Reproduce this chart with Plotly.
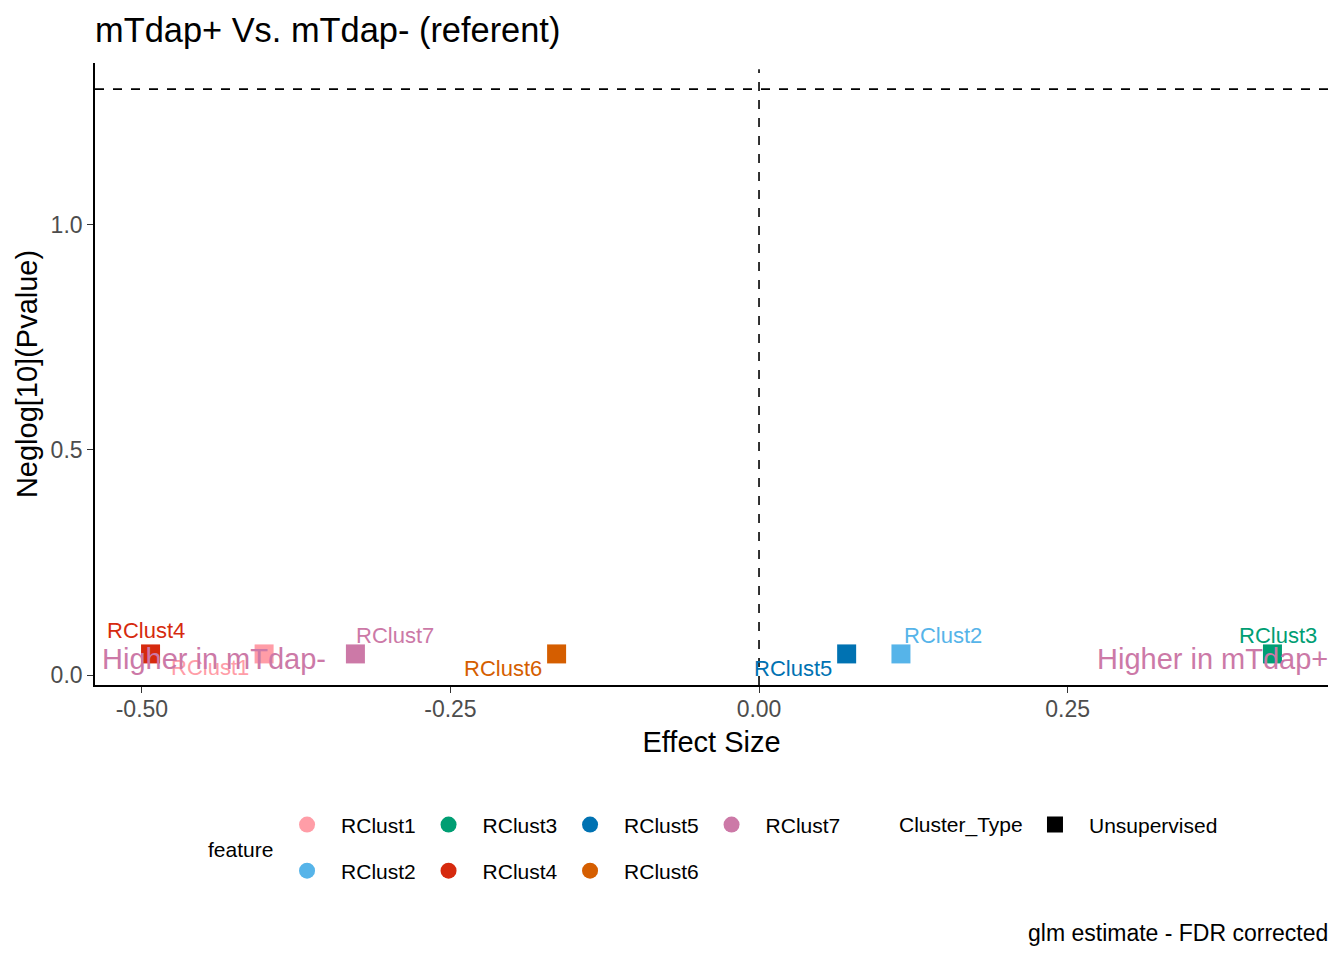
import plotly.graph_objects as go
import math

# ---- data ----
features = ["RClust1", "RClust2", "RClust3", "RClust4", "RClust5", "RClust6", "RClust7"]
effect_size = [-0.401, 0.115, 0.416, -0.493, 0.071, -0.164, -0.327]
neglog10_p = [0.047, 0.047, 0.047, 0.047, 0.047, 0.047, 0.047]
cluster_type = ["Unsupervised"] * 7
x_ticks = [-0.50, -0.25, 0.00, 0.25]
y_ticks = [0.0, 0.5, 1.0]
alpha = 0.05

# ---- styling ----
colors = {
    "RClust1": "#FF9DA7", "RClust2": "#56B4E9", "RClust3": "#009E73",
    "RClust4": "#D62A0E", "RClust5": "#0072B2", "RClust6": "#D55E00",
    "RClust7": "#CC79A7",
}
# pixel offsets of repelled labels (dx right, dy up)
label_shift = {
    "RClust1": (-54, -14), "RClust2": (42, 18), "RClust3": (6, 18),
    "RClust4": (-5, 23), "RClust5": (-54, -15), "RClust6": (-54, -15),
    "RClust7": (40, 18),
}
FONT = "Liberation Sans, Arial, sans-serif"

fig = go.Figure()

# data points (squares)
for f, x, y in zip(features, effect_size, neglog10_p):
    fig.add_trace(go.Scatter(
        x=[x], y=[y], mode="markers", showlegend=False, name=f,
        marker=dict(symbol="square", size=19, color=colors[f]),
        hovertemplate=f + "<br>Effect: %{x}<br>-log10 p: %{y}<extra></extra>",
    ))

# legend entries (feature, circles), two rows
row1 = ["RClust1", "RClust3", "RClust5", "RClust7"]
row2 = ["RClust2", "RClust4", "RClust6"]
for f in row1:
    fig.add_trace(go.Scatter(x=[None], y=[None], mode="markers", name=f, legend="legend",
                             marker=dict(symbol="circle", size=18, color=colors[f])))
# invisible spacer so the last entry's text is not clipped
fig.add_trace(go.Scatter(x=[None], y=[None], mode="markers", name=" ", legend="legend",
                         marker=dict(symbol="circle", size=1, opacity=0, color="white")))
for f in row2:
    fig.add_trace(go.Scatter(x=[None], y=[None], mode="markers", name=f, legend="legend2",
                             marker=dict(symbol="circle", size=18, color=colors[f])))
fig.add_trace(go.Scatter(x=[None], y=[None], mode="markers", name=" ", legend="legend2",
                         marker=dict(symbol="circle", size=1, opacity=0, color="white")))
fig.add_trace(go.Scatter(x=[None], y=[None], mode="markers", name=cluster_type[0], legend="legend3",
                         marker=dict(symbol="square", size=18, color="black")))

# labels
annotations = []
for f, x, y in zip(features, effect_size, neglog10_p):
    dx, dy = label_shift[f]
    annotations.append(dict(x=x, y=y, xref="x", yref="y", text=f, showarrow=False,
                            xshift=dx, yshift=dy, font=dict(family=FONT, size=22, color=colors[f])))

# direction annotations
annotations.append(dict(x=-0.534, y=0.035, xref="x", yref="y", text="Higher in mTdap-",
                        showarrow=False, xanchor="left", yanchor="middle",
                        font=dict(family=FONT, size=29, color="#CC79A7")))
annotations.append(dict(x=1, y=0.035, xref="paper", yref="y", text="Higher in mTdap+",
                        showarrow=False, xanchor="right", yanchor="middle", xshift=2,
                        font=dict(family=FONT, size=29, color="#CC79A7")))
# legend titles
annotations.append(dict(x=0.1184, y=-0.2637, xref="paper", yref="paper", text="feature",
                        showarrow=False, xanchor="center", yanchor="middle",
                        font=dict(family=FONT, size=21, color="black")))
annotations.append(dict(x=0.6504, y=-0.225, xref="paper", yref="paper", text="Cluster_Type",
                        showarrow=False, xanchor="left", yanchor="middle",
                        font=dict(family=FONT, size=21, color="black")))
# caption
annotations.append(dict(x=1, y=-0.399, xref="paper", yref="paper", text="glm estimate - FDR corrected",
                        showarrow=False, xanchor="right", yanchor="middle", xshift=2,
                        font=dict(family=FONT, size=23, color="black")))

shapes = [
    dict(type="line", xref="paper", yref="y", x0=0, x1=1, y0=-math.log10(alpha), y1=-math.log10(alpha),
         line=dict(color="black", width=1.6, dash="dash")),
    dict(type="line", xref="x", yref="paper", x0=0, x1=0, y0=0, y1=0.99,
         line=dict(color="black", width=1.6, dash="dash")),
]

legend_common = dict(orientation="h", font=dict(family=FONT, size=21, color="black"),
                     bgcolor="rgba(0,0,0,0)", itemwidth=58,
                     xanchor="left", yanchor="middle", itemclick=False, itemdoubleclick=False)

fig.update_layout(
    width=1336, height=952,
    margin=dict(l=87, r=16, t=55, b=275),
    paper_bgcolor="white", plot_bgcolor="white",
    font=dict(family=FONT, color="black"),
    title=dict(text="mTdap+ Vs. mTdap- (referent)", x=0, xref="paper", xanchor="left",
               y=1 - 22 / 952, yref="container", yanchor="middle",
               font=dict(family=FONT, size=34.4, color="black")),
    xaxis=dict(range=[-0.538, 0.461], tickvals=x_ticks, ticktext=[f"{v:.2f}" for v in x_ticks],
               showgrid=False, zeroline=False, showline=True, linecolor="black", linewidth=1.6,
               ticks="outside", ticklen=6, tickwidth=1.4, tickcolor="#333333", ticklabelstandoff=-3,
               tickfont=dict(family=FONT, size=23, color="#4D4D4D"),
               title=dict(text="Effect Size", font=dict(family=FONT, size=29, color="black"), standoff=10)),
    yaxis=dict(range=[-0.022, 1.359], tickvals=y_ticks, ticktext=[f"{v:.1f}" for v in y_ticks],
               showgrid=False, zeroline=False, showline=True, linecolor="black", linewidth=1.6,
               ticks="outside", ticklen=6, tickwidth=1.4, tickcolor="#333333",
               tickfont=dict(family=FONT, size=23, color="#4D4D4D"),
               title=dict(text="Neglog[10](Pvalue)", font=dict(family=FONT, size=29, color="black"), standoff=4)),
    legend=dict(x=0.1444, y=-0.225, entrywidthmode="pixels", entrywidth=68.5, **legend_common),
    legend2=dict(x=0.1444, y=-0.299, entrywidthmode="pixels", entrywidth=68.5, **legend_common),
    legend3=dict(x=0.751, y=-0.225, **legend_common),
    annotations=annotations,
    shapes=shapes,
)

fig.write_html("out.html")
